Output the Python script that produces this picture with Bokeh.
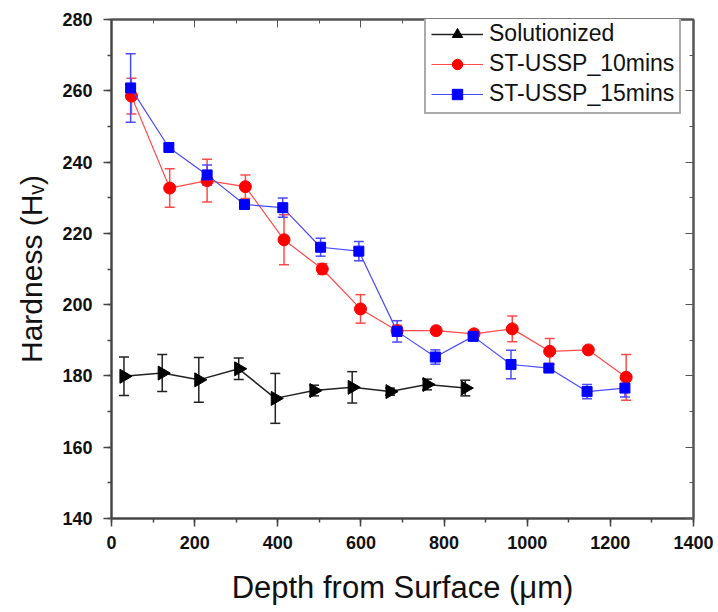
import numpy as np
from bokeh.plotting import figure
from bokeh.models import (ColumnDataSource, Whisker, TeeHead, Legend, LegendItem,
                          LinearAxis, SingleIntervalTicker)
from bokeh.embed import file_html
from bokeh.resources import INLINE

# ---------------- data ----------------
depth_sol = [30, 122, 210, 306, 394, 487, 579, 670, 759, 851]
hv_sol = [179.9, 180.8, 178.9, 182.0, 173.7, 175.9, 176.8, 175.6, 177.6, 176.6]
err_sol = [5.4, 5.2, 6.3, 3.0, 7.0, 1.5, 4.4, 1.0, 1.5, 2.2]

depth_10 = [48, 140, 230, 322, 415, 507, 599, 687, 781, 872, 964, 1054, 1147, 1238]
hv_10 = [258.5, 232.7, 234.8, 233.1, 218.2, 210.0, 198.8, 192.7, 192.7, 191.8, 193.2, 186.9, 187.3, 179.6]
err_10 = [5.0, 5.4, 6.0, 3.3, 7.0, 1.5, 4.0, 1.5, 1.0, 1.0, 3.6, 3.6, 0.8, 6.4]

depth_15 = [46, 138, 230, 320, 412, 503, 595, 687, 779, 870, 961, 1052, 1144, 1235]
hv_15 = [260.8, 244.1, 236.4, 228.1, 227.2, 216.1, 215.0, 192.5, 185.3, 191.1, 183.2, 182.2, 175.6, 176.6]
err_15 = [9.6, 1.0, 2.8, 1.0, 2.7, 2.5, 2.7, 3.0, 2.0, 1.0, 4.0, 1.0, 2.0, 2.5]

names = ["Solutionized", "ST-USSP_10mins", "ST-USSP_15mins"]
x_title = "Depth from Surface (\u03bcm)"
y_title = "Hardness (H\u1d65)"

FONT = "Liberation Sans"

p = figure(width=718, height=612, x_range=(0, 1400), y_range=(140, 280),
           output_backend="svg", toolbar_location=None,
           min_border_left=111, min_border_right=25, min_border_top=19, min_border_bottom=94)
p.grid.visible = False
p.outline_line_color = "#555555"
p.outline_line_width = 2
p.background_fill_color = "white"
p.border_fill_color = "white"

xt = SingleIntervalTicker(interval=200, num_minor_ticks=2)
yt = SingleIntervalTicker(interval=20, num_minor_ticks=2)
p.xaxis.ticker = xt
p.yaxis.ticker = yt

for ax in (p.xaxis[0], p.yaxis[0]):
    ax.axis_line_color = "#444444"
    ax.axis_line_width = 2
    ax.major_tick_line_color = "#444444"
    ax.minor_tick_line_color = "#444444"
    ax.major_tick_line_width = 1.5
    ax.minor_tick_line_width = 1.5
    ax.major_tick_out = 8
    ax.major_tick_in = 0
    ax.minor_tick_out = 4
    ax.minor_tick_in = 0
    ax.major_label_text_font = FONT
    ax.major_label_text_font_style = "bold"
    ax.major_label_text_font_size = "18px"
    ax.major_label_text_color = "#111111"
    ax.axis_label_text_font = FONT
    ax.axis_label_text_font_style = "normal"
    ax.axis_label_text_color = "#111111"
p.xaxis.major_label_standoff = 9
p.yaxis.major_label_standoff = 11

p.xaxis.axis_label = x_title
p.xaxis.axis_label_text_font_size = "31px"
p.xaxis.axis_label_standoff = 18
p.yaxis.axis_label = y_title
p.yaxis.axis_label_text_font_size = "30px"
p.yaxis.axis_label_standoff = 11

for loc, tk in (("above", xt), ("right", yt)):
    ax = LinearAxis(ticker=tk)
    ax.axis_line_color = "#555555"
    ax.axis_line_width = 2
    ax.major_tick_line_color = "#555555"
    ax.minor_tick_line_color = "#555555"
    ax.major_tick_in = 8
    ax.major_tick_out = 0
    ax.minor_tick_in = 4
    ax.minor_tick_out = 0
    ax.major_label_text_color = None
    ax.major_label_text_font_size = "1px"
    ax.major_label_standoff = 0
    p.add_layout(ax, loc)

def series(xs, ys, es, color, line_color, marker, size, angle=0.0, lw=1.2):
    src = ColumnDataSource(dict(x=xs, y=ys, lo=[a - b for a, b in zip(ys, es)],
                                hi=[a + b for a, b in zip(ys, es)]))
    ln = p.line("x", "y", source=src, line_color=line_color, line_width=lw)
    wh = Whisker(base="x", upper="hi", lower="lo", source=src,
                 line_color=line_color, line_width=1.5,
                 upper_head=TeeHead(size=10, line_color=line_color, line_width=1.5),
                 lower_head=TeeHead(size=10, line_color=line_color, line_width=1.5))
    p.add_layout(wh)
    mk = p.scatter("x", "y", source=src, marker=marker, size=size, angle=angle,
                   fill_color=color, line_color=color)
    return ln, mk

r_sol = series(depth_sol, hv_sol, err_sol, "black", "#222222", "triangle", 14, angle=-np.pi / 2, lw=1.5)
r_10 = series(depth_10, hv_10, err_10, "red", "#ff4a4a", "circle", 12)
r_15 = series(depth_15, hv_15, err_15, "blue", "#4a4aff", "square", 10)

legend = Legend(items=[LegendItem(label=names[0], renderers=list(r_sol)),
                       LegendItem(label=names[1], renderers=list(r_10)),
                       LegendItem(label=names[2], renderers=list(r_15))],
                location=(313, 404))
legend.label_text_font = FONT
legend.label_text_font_size = "23px"
legend.label_text_color = "#111111"
legend.glyph_width = 52
legend.glyph_height = 26
legend.label_height = 26
legend.label_standoff = 6
legend.spacing = 3
legend.padding = 5
legend.margin = 0
legend.border_line_color = "#555555"
legend.border_line_width = 2
legend.background_fill_alpha = 1.0
p.add_layout(legend)

open("out.html", "w").write(file_html(p, INLINE))
